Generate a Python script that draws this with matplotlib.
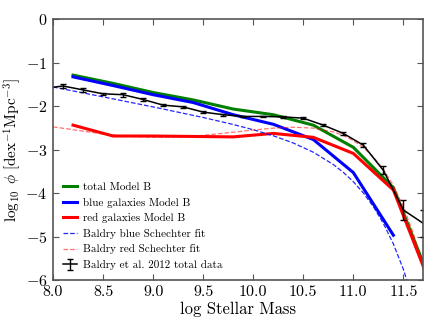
import matplotlib
matplotlib.use("Agg")
import matplotlib.pyplot as plt

plt.rcParams['font.family'] = ['cmr10', 'DejaVu Serif']
plt.rcParams['mathtext.fontset'] = 'cm'
plt.rcParams['axes.formatter.use_mathtext'] = True
plt.rcParams['axes.unicode_minus'] = True

# Model B (log stellar mass, log10 phi)
model_mass = [8.2, 8.6, 9.0, 9.4, 9.8, 10.2, 10.6, 11.0, 11.4, 11.8]
total_B = [-1.29, -1.48, -1.69, -1.86, -2.07, -2.20, -2.44, -2.95, -3.88, -6.2]
blue_mass = [8.2, 8.6, 9.0, 9.4, 9.8, 10.2, 10.6, 11.0, 11.4]
blue_B = [-1.33, -1.53, -1.74, -1.92, -2.20, -2.42, -2.77, -3.53, -4.97]
red_B = [-2.44, -2.69, -2.69, -2.70, -2.71, -2.63, -2.72, -3.09, -3.93, -6.28]

# Baldry Schechter fits
bfit_mass = [8.0, 8.5, 9.0, 9.5, 9.8, 10.0, 10.2, 10.4, 10.6, 10.8, 10.9,
             11.0, 11.1, 11.2, 11.3, 11.4, 11.5, 11.6]
bfit_phi = [-1.563, -1.790, -2.021, -2.264, -2.425, -2.545, -2.684, -2.850,
            -3.062, -3.345, -3.525, -3.740, -3.999, -4.314, -4.699, -5.171,
            -5.754, -6.477]
rfit_mass = [8.0, 8.5, 8.75, 9.0, 9.25, 9.5, 9.8, 10.0, 10.2, 10.4, 10.6, 10.8,
             10.9, 11.0, 11.1, 11.2, 11.3, 11.4, 11.5, 11.6, 11.7]
rfit_phi = [-2.479, -2.643, -2.696, -2.720, -2.712, -2.674, -2.603, -2.552,
            -2.509, -2.488, -2.508, -2.595, -2.677, -2.794, -2.954, -3.170,
            -3.455, -3.828, -4.312, -4.935, -5.733]

# Baldry et al. 2012 total data
data_mass = [7.9, 8.1, 8.3, 8.5, 8.7, 8.9, 9.1, 9.3, 9.5, 9.7, 9.9, 10.1,
             10.3, 10.5, 10.7, 10.9, 11.1, 11.3, 11.5, 11.7]
data_phi = [-1.60, -1.54, -1.63, -1.72, -1.74, -1.85, -1.98, -2.02, -2.14,
            -2.20, -2.24, -2.24, -2.25, -2.28, -2.44, -2.63, -2.90, -3.48,
            -4.39, -4.70]
data_err = [0.04, 0.05, 0.05, 0.03, 0.05, 0.04, 0.03, 0.03, 0.03, 0.02,
            0.02, 0.02, 0.02, 0.02, 0.03, 0.04, 0.05, 0.09, 0.23, 0.30]

xticks = [8.0, 8.5, 9.0, 9.5, 10.0, 10.5, 11.0, 11.5]
yticks = [0, -1, -2, -3, -4, -5, -6]

fig = plt.figure(figsize=(4.36, 3.27), dpi=100)
ax = fig.add_axes([0.1216, 0.1437, 0.8495, 0.7982])

ax.plot(model_mass, total_B, color='g', lw=2.2, label='total Model B')
ax.plot(blue_mass, blue_B, color='b', lw=2.2, label='blue galaxies Model B')
ax.plot(model_mass, red_B, color='r', lw=2.2, label='red galaxies Model B')
ax.plot(bfit_mass, bfit_phi, color='b', lw=0.9, ls='--', alpha=0.85,
        label='Baldry blue Schechter fit')
ax.plot(rfit_mass, rfit_phi, color='r', lw=0.9, ls='--', alpha=0.55,
        label='Baldry red Schechter fit')
ax.errorbar(data_mass, data_phi, yerr=data_err, fmt='-', color='k', lw=1.1,
            elinewidth=1.0, capsize=2, capthick=1.0,
            label='Baldry et al. 2012 total data')

ax.set_xlim(8.0, 11.7)
ax.set_ylim(-6, 0)
ax.set_xticks(xticks)
ax.set_yticks(yticks)
ax.set_xticklabels(['%.1f' % t for t in xticks])
ax.set_yticklabels([r'$%d$' % t if t != 0 else r'$0$' for t in yticks])
ax.tick_params(direction='in', top=True, right=True, length=4, width=0.8,
               color='#555555', labelsize=11.5, pad=4)
for sp in ax.spines.values():
    sp.set_color('#555555')
    sp.set_linewidth(1.2)

ax.set_xlabel('log Stellar Mass', fontsize=12, labelpad=2)
ax.set_ylabel(r'$\log_{10}\ \phi\ [\mathrm{dex}^{-1}\mathrm{Mpc}^{-3}]$',
              fontsize=11, labelpad=2)

leg = ax.legend(loc='lower left', frameon=False, fontsize=8,
                handlelength=1.3, labelspacing=0.5, handletextpad=0.5)

fig.savefig('out.png', dpi=100)
